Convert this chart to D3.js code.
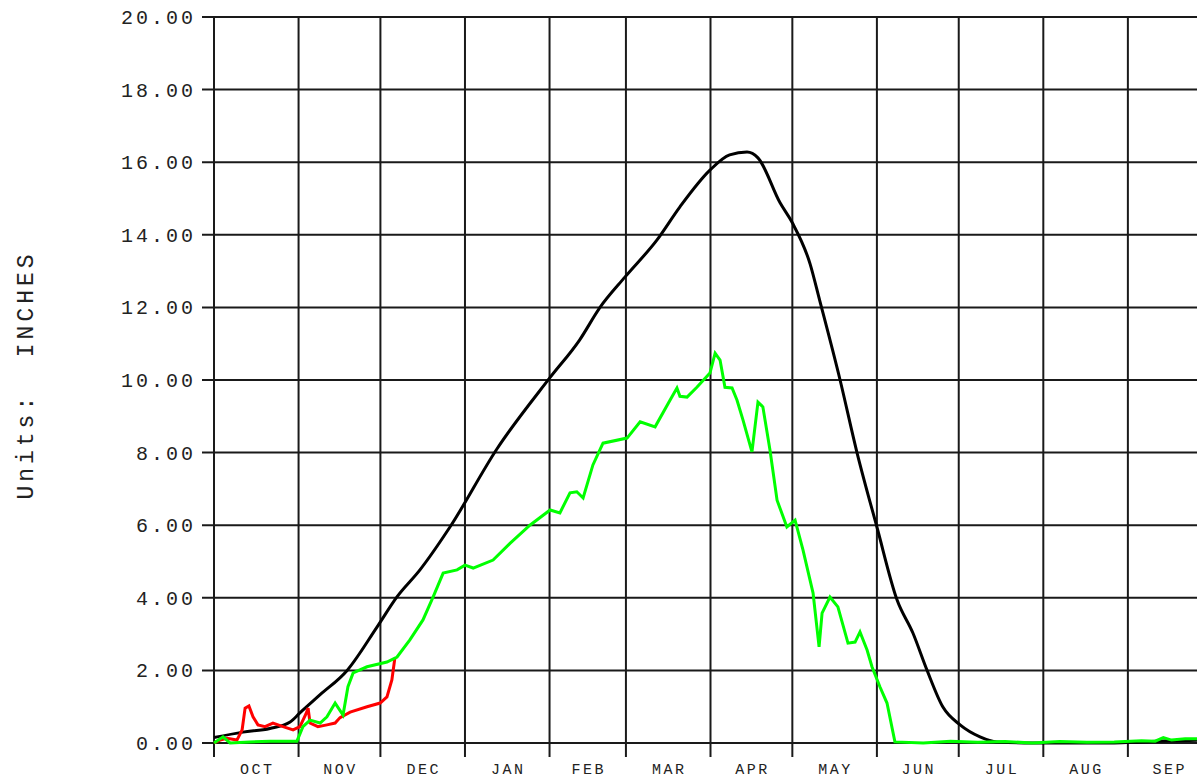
<!DOCTYPE html>
<html>
<head>
<meta charset="utf-8">
<script src="https://cdn.jsdelivr.net/npm/d3@7"></script>
<style>
  body { margin: 0; background: #fff; overflow: hidden; }
  text { font-family: "Liberation Mono", "Courier New", monospace; fill: #222; }
</style>
</head>
<body>
<script>
// water year, day offsets from Oct 1
const startDate = new Date(2022, 9, 1);
const endDate = new Date(2023, 9, 1);

const medianDays = [0, 10.6, 20.5, 27.9, 31.5, 38.9, 48.8, 59.8, 67, 75.5, 86.5, 103.7, 123, 134, 141.5, 150.7, 162.4, 170.8, 181.8, 189, 195.4, 199.4, 207.5, 212, 218.5, 222, 229.5, 235.7, 243, 250.4, 256.2, 261.4, 267.2, 273.5, 280.8, 287, 300, 330, 340, 350, 364];
const medianValues = [0.15, 0.30, 0.40, 0.58, 0.83, 1.33, 2.0, 3.2, 4.02, 4.77, 5.95, 8.1, 10.05, 11.1, 12.0, 12.84, 13.86, 14.77, 15.78, 16.2, 16.28, 16.12, 14.88, 14.33, 13.2, 12.2, 10.0, 8.0, 5.95, 3.94, 3.03, 2.0, 0.99, 0.5, 0.17, 0.03, 0.0, 0.0, 0.03, 0.06, 0.08];

const currentDays = [0, 3.3, 5.9, 13, 20.5, 30.4, 32.6, 35.2, 38.9, 41.4, 44.4, 47.3, 49.1, 51, 56.1, 63.4, 67.1, 71.8, 76.6, 80.3, 84, 89.1, 92, 95, 102.3, 108.5, 115.8, 123.2, 126.8, 130.5, 133, 135.3, 138.9, 142.6, 151.4, 156.2, 161.7, 167.2, 169.7, 170.8, 173.4, 177, 181.8, 183.7, 185.5, 187.3, 189.9, 191.7, 193.9, 197.2, 199.4, 201.2, 203.8, 206.4, 210, 213, 215.9, 219.6, 221.8, 222.9, 225.8, 228.7, 232.4, 235, 236.8, 239.4, 241.2, 244.1, 246.7, 249.6, 260, 270, 280, 290, 300, 310, 320, 330, 340, 345, 348, 351, 356, 364];
const currentValues = [0.0, 0.17, 0.0, 0.03, 0.05, 0.05, 0.45, 0.63, 0.55, 0.72, 1.1, 0.77, 1.55, 1.93, 2.1, 2.23, 2.37, 2.84, 3.39, 4.02, 4.68, 4.77, 4.9, 4.82, 5.04, 5.5, 6.0, 6.42, 6.34, 6.89, 6.92, 6.75, 7.66, 8.26, 8.4, 8.85, 8.71, 9.45, 9.78, 9.55, 9.53, 9.8, 10.19, 10.74, 10.55, 9.8, 9.78, 9.45, 8.9, 8.02, 9.39, 9.26, 8.07, 6.69, 5.95, 6.14, 5.32, 4.13, 2.65, 3.58, 4.02, 3.75, 2.75, 2.78, 3.06, 2.56, 2.1, 1.55, 1.1, 0.03, 0.0, 0.05, 0.02, 0.04, 0.0, 0.04, 0.02, 0.03, 0.06, 0.05, 0.15, 0.08, 0.12, 0.12];

const lastYearDays = [0, 2.2, 4.8, 8.4, 10.3, 11.4, 12.8, 14.3, 16.1, 18.7, 21.6, 25.3, 29, 31.5, 33.7, 34.5, 35.2, 38.1, 41.4, 44.4, 46.2, 49.9, 56.1, 60.9, 63.4, 65.2, 66.3];
const lastYearValues = [0.0, 0.08, 0.13, 0.08, 0.36, 0.96, 1.02, 0.72, 0.5, 0.45, 0.55, 0.45, 0.36, 0.45, 0.8, 0.96, 0.55, 0.45, 0.5, 0.55, 0.7, 0.85, 1.0, 1.1, 1.27, 1.74, 2.34];

const yTicks = [0, 2, 4, 6, 8, 10, 12, 14, 16, 18, 20];
const monthLabels = ['OCT', 'NOV', 'DEC', 'JAN', 'FEB', 'MAR', 'APR', 'MAY', 'JUN', 'JUL', 'AUG', 'SEP'];

const w = 1197;
const h = 781;
const plot = { left: 214, top: 17, bottom: 743 };

const svg = d3.select('body').append('svg')
  .attr('width', w)
  .attr('height', h);

const x = d3.scaleTime()
  .domain([startDate, endDate])
  .range([plot.left, plot.left + 365 * 2.728]);
const y = d3.scaleLinear()
  .domain([0, 20])
  .range([plot.bottom, plot.top]);

// fractional day offsets kept so the marks land between midnights
const dayW = x(d3.timeDay.offset(startDate, 1)) - x(startDate);
const toPoints = (days, vals) => days.map((d, i) => [d, vals[i]]);
const line = d3.line()
  .x((p) => x(startDate) + dayW * p[0])
  .y((p) => y(p[1]));
const smoothLine = d3.line()
  .x((p) => x(startDate) + dayW * p[0])
  .y((p) => y(p[1]))
  .curve(d3.curveMonotoneX);

// grid
const months = d3.timeMonth.range(startDate, endDate);
svg.append('g')
  .selectAll('line')
  .data(months)
  .enter().append('line')
  .attr('x1', (d) => x(d)).attr('x2', (d) => x(d))
  .attr('y1', plot.top).attr('y2', plot.bottom + 14)
  .attr('stroke', '#1a1a1a')
  .attr('stroke-width', 2);

svg.append('g')
  .selectAll('line')
  .data(yTicks)
  .enter().append('line')
  .attr('x1', plot.left - 12).attr('x2', w + 20)
  .attr('y1', (d) => y(d)).attr('y2', (d) => y(d))
  .attr('stroke', '#1a1a1a')
  .attr('stroke-width', 2);

svg.append('g')
  .selectAll('text')
  .data(yTicks)
  .enter().append('text')
  .attr('x', 196)
  .attr('y', (d) => y(d))
  .attr('dy', '0.35em')
  .attr('text-anchor', 'end')
  .style('font-size', '20px')
  .style('letter-spacing', '3px')
  .text((d) => d3.format('.2f')(d));

svg.append('g')
  .selectAll('text')
  .data(months)
  .enter().append('text')
  .attr('x', (d) => (x(d) + x(d3.timeMonth.offset(d, 1))) / 2 + 1)
  .attr('y', 774)
  .attr('text-anchor', 'middle')
  .style('font-size', '15px')
  .style('letter-spacing', '2.5px')
  .text((d, i) => monthLabels[i]);

svg.append('text')
  .attr('transform', 'translate(33, 375) rotate(-90)')
  .attr('text-anchor', 'middle')
  .style('font-size', '23px')
  .style('letter-spacing', '4px')
  .style('white-space', 'pre')
  .text('Units:  INCHES');

// series
svg.append('path')
  .datum(toPoints(medianDays, medianValues))
  .attr('d', smoothLine)
  .attr('fill', 'none')
  .attr('stroke', '#000')
  .attr('stroke-width', 3);

svg.append('path')
  .datum(toPoints(lastYearDays, lastYearValues))
  .attr('d', line)
  .attr('fill', 'none')
  .attr('stroke', '#ff0000')
  .attr('stroke-width', 3);

svg.append('path')
  .datum(toPoints(currentDays, currentValues))
  .attr('d', line)
  .attr('fill', 'none')
  .attr('stroke', '#00ff00')
  .attr('stroke-width', 3);
</script>
</body>
</html>
